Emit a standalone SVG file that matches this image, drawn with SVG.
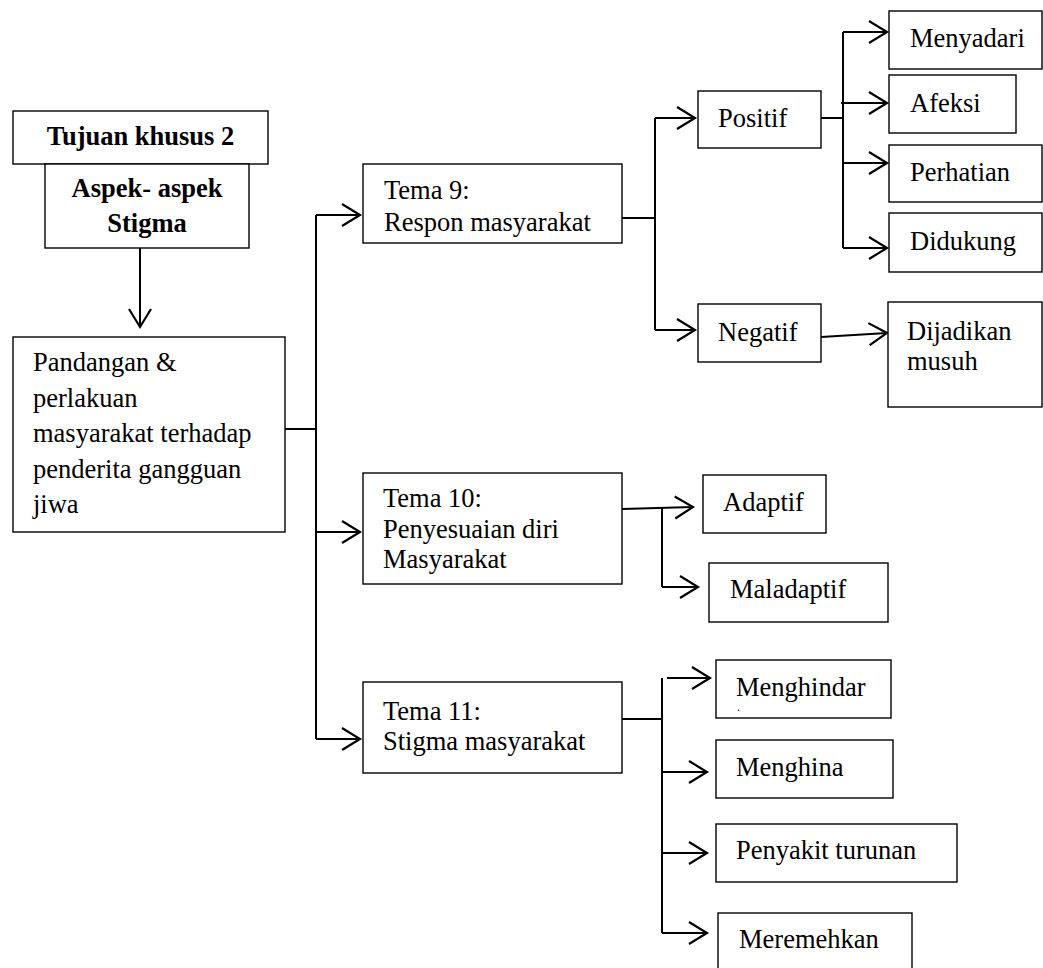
<svg xmlns="http://www.w3.org/2000/svg" width="1043" height="968" viewBox="0 0 1043 968">
<style>
.box{fill:#fff;stroke:#000;stroke-width:1.4}
text{font-family:'Liberation Serif','Times New Roman',Times,serif;font-size:26.5px;fill:#000}
.b{font-weight:bold}
.c{fill:none;stroke:#000;stroke-width:2}
.a{marker-end:url(#arr)}
</style>
<defs>
<marker id="arr" markerUnits="userSpaceOnUse" markerWidth="30" markerHeight="30" viewBox="-20 -15 30 30" refX="0" refY="0" orient="auto" overflow="visible">
<path d="M-18,-11 L0,0 L-18,11" fill="none" stroke="#000" stroke-width="2.2"/>
</marker>
</defs>
<rect width="1043" height="968" fill="#fff"/>
<g id="connectors">
<path class="c a" d="M140,248 V327"/>
<path class="c" d="M285,429 H316 M316,215 V739"/>
<path class="c a" d="M316,215 H360"/>
<path class="c a" d="M316,532 H360"/>
<path class="c a" d="M316,739 H360"/>
<path class="c" d="M622,218 H655 M655,118 V330"/>
<path class="c a" d="M655,118 H695"/>
<path class="c a" d="M655,330 H695"/>
<path class="c" d="M821,118 H843 M843,32 V248"/>
<path class="c a" d="M843,32 H887"/>
<path class="c a" d="M841,103 H887"/>
<path class="c a" d="M843,163 H887"/>
<path class="c a" d="M843,248 H887"/>
<path class="c a" d="M821,337 L887,333"/>
<path class="c a" d="M622,509 L693,507"/>
<path class="c" d="M662,508 V587"/>
<path class="c a" d="M662,587 H698"/>
<path class="c" d="M622,719 H662 M662,678 V933"/>
<path class="c a" d="M667,678 H710"/>
<path class="c a" d="M662,772 H707"/>
<path class="c a" d="M662,853 H707"/>
<path class="c a" d="M662,933 H707"/>
</g>
<g id="tujuan">
<rect class="box" x="13" y="111" width="255" height="53"/>
<text class="b" x="140.5" y="145" text-anchor="middle">Tujuan khusus 2</text>
</g>
<g id="aspek">
<rect class="box" x="45" y="164" width="204" height="84"/>
<text class="b" x="147" y="197" text-anchor="middle">Aspek- aspek</text>
<text class="b" x="147" y="232" text-anchor="middle">Stigma</text>
</g>
<g id="pandangan">
<rect class="box" x="13" y="337" width="272" height="195"/>
<text x="33" y="371">Pandangan &amp;</text>
<text x="33" y="406.5">perlakuan</text>
<text x="33" y="442">masyarakat terhadap</text>
<text x="33" y="477.5">penderita gangguan</text>
<text x="33" y="513">jiwa</text>
</g>
<g id="tema9">
<rect class="box" x="363" y="164" width="259" height="79"/>
<text x="384" y="199">Tema 9:</text>
<text x="384" y="231">Respon masyarakat</text>
</g>
<g id="tema10">
<rect class="box" x="363" y="473" width="259" height="111"/>
<text x="383" y="507">Tema 10:</text>
<text x="383" y="538">Penyesuaian diri</text>
<text x="383" y="568">Masyarakat</text>
</g>
<g id="tema11">
<rect class="box" x="363" y="682" width="259" height="91"/>
<text x="383" y="720">Tema 11:</text>
<text x="383" y="750">Stigma masyarakat</text>
</g>
<g id="positif">
<rect class="box" x="698" y="91" width="123" height="57"/>
<text x="718" y="127">Positif</text>
</g>
<g id="negatif">
<rect class="box" x="698" y="304" width="123" height="58"/>
<text x="718" y="341">Negatif</text>
</g>
<g id="menyadari">
<rect class="box" x="889" y="11" width="153" height="58"/>
<text x="910" y="47">Menyadari</text>
</g>
<g id="afeksi">
<rect class="box" x="889" y="75" width="127" height="58"/>
<text x="910" y="112">Afeksi</text>
</g>
<g id="perhatian">
<rect class="box" x="889" y="145" width="153" height="57"/>
<text x="910" y="181">Perhatian</text>
</g>
<g id="didukung">
<rect class="box" x="889" y="213" width="153" height="59"/>
<text x="910" y="250">Didukung</text>
</g>
<g id="dijadikan">
<rect class="box" x="888" y="302" width="154" height="105"/>
<text x="907" y="340">Dijadikan</text>
<text x="907" y="370">musuh</text>
</g>
<g id="adaptif">
<rect class="box" x="703" y="475" width="123" height="58"/>
<text x="723" y="511">Adaptif</text>
</g>
<g id="maladaptif">
<rect class="box" x="709" y="563" width="179" height="59"/>
<text x="730" y="598">Maladaptif</text>
</g>
<g id="menghindar">
<rect class="box" x="716" y="660" width="175" height="58"/>
<text x="736" y="696">Menghindar</text>
<text x="737" y="711" style="font-size:12px">.</text>
</g>
<g id="menghina">
<rect class="box" x="716" y="740" width="177" height="58"/>
<text x="736" y="776">Menghina</text>
</g>
<g id="penyakit">
<rect class="box" x="716" y="824" width="241" height="58"/>
<text x="736" y="859">Penyakit turunan</text>
</g>
<g id="meremehkan">
<rect class="box" x="718" y="913" width="194" height="70"/>
<text x="739" y="948">Meremehkan</text>
</g>
</svg>
